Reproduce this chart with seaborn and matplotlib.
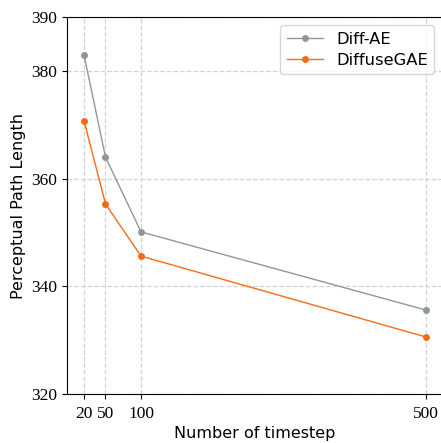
import numpy as np
import pandas as pd
import matplotlib
matplotlib.use("Agg")
import matplotlib.pyplot as plt
import seaborn as sns

timesteps = [20, 50, 100, 500]
diff_ae = [382.9, 364.0, 350.1, 335.6]
diffuse_gae = [370.7, 355.3, 345.6, 330.6]
y_ticks = [320, 340, 360, 380, 390]

df = pd.DataFrame({
    'timestep': timesteps * 2,
    'ppl': diff_ae + diffuse_gae,
    'model': ['Diff-AE'] * 4 + ['DiffuseGAE'] * 4,
})

sns.set_style('ticks', {'axes.edgecolor': 'black', 'xtick.color': 'black',
                        'ytick.color': 'black', 'text.color': 'black',
                        'axes.labelcolor': 'black'})
plt.rcParams['font.family'] = ['DejaVu Sans']

fig = plt.figure(figsize=(4.41, 4.43), dpi=100)
ax = fig.add_axes([0.152, 0.1106, 0.852, 0.851])

sns.lineplot(data=df, x='timestep', y='ppl', hue='model', marker='o',
             palette={'Diff-AE': '#8e979e', 'DiffuseGAE': '#fa6a12'},
             linewidth=1.0, markersize=5, markeredgewidth=0, ax=ax)

ax.set_xlim(-4, 524)
ax.set_ylim(320, 390)
ax.set_xticks(timesteps)
ax.set_yticks(y_ticks)
ax.tick_params(axis='x', pad=5)
for lab in ax.get_xticklabels() + ax.get_yticklabels():
    lab.set_family('Liberation Serif')
    lab.set_fontsize(12.5)
ax.grid(True, linestyle='--', color='#d3d3d3', linewidth=0.9)
ax.spines['right'].set_visible(False)
ax.set_xlabel('Number of timestep', fontsize=11.5, labelpad=3)
ax.set_ylabel('Perceptual Path Length', fontsize=11.5)
ax.legend(title=None, loc='upper right', bbox_to_anchor=(0.978, 0.978),
          borderaxespad=0, fontsize=11.8, frameon=True, handlelength=2.2,
          labelspacing=0.35)

fig.savefig('out.png', dpi=100)
